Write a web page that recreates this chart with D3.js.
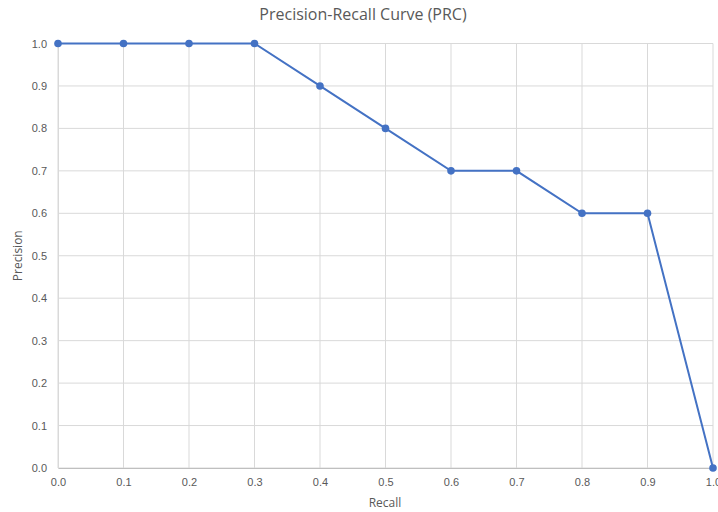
<!DOCTYPE html>
<html>
<head>
<meta charset="utf-8">
<script src="https://cdn.jsdelivr.net/npm/d3@7"></script>
<style>
  html, body { margin: 0; padding: 0; background: #fff; }
  svg { display: block; font-family: "Open Sans", "Noto Sans", sans-serif; }
</style>
</head>
<body>
<svg id="chart" width="718" height="512"></svg>
<script>
// Precision-recall points
const recall = [0.0, 0.1, 0.2, 0.3, 0.4, 0.5, 0.6, 0.7, 0.8, 0.9, 1.0];
const precision = [1.0, 1.0, 1.0, 1.0, 0.9, 0.8, 0.7, 0.7, 0.6, 0.6, 0.0];
const xTicks = [0, 0.1, 0.2, 0.3, 0.4, 0.5, 0.6, 0.7, 0.8, 0.9, 1.0];
const yTicks = [0, 0.1, 0.2, 0.3, 0.4, 0.5, 0.6, 0.7, 0.8, 0.9, 1.0];

const svg = d3.select("#chart");
const margin = { left: 58, right: 5, top: 43.5, bottom: 44 };
const W = 718, H = 512;

const x = d3.scaleLinear().domain([0, 1]).range([margin.left, W - margin.right]);
const y = d3.scaleLinear().domain([0, 1]).range([H - margin.bottom, margin.top]);

// Gridlines
svg.append("g").selectAll("line").data(xTicks).join("line")
  .attr("x1", d => x(d)).attr("x2", d => x(d))
  .attr("y1", y(0)).attr("y2", y(1))
  .attr("stroke", "#d9d9d9").attr("stroke-width", 1);
svg.append("g").selectAll("line").data(yTicks).join("line")
  .attr("x1", x(0)).attr("x2", x(1))
  .attr("y1", d => y(d)).attr("y2", d => y(d))
  .attr("stroke", "#d9d9d9").attr("stroke-width", 1);

// Axes
const xAxis = d3.axisBottom(x).tickValues(xTicks).tickFormat(d3.format(".1f")).tickSize(0).tickPadding(10);
const yAxis = d3.axisLeft(y).tickValues(yTicks).tickFormat(d3.format(".1f")).tickSize(0).tickPadding(11);

const gx = svg.append("g").attr("transform", `translate(0,${y(0)})`).call(xAxis);
gx.select(".domain").attr("stroke", "#bfbfbf");
gx.selectAll("text").attr("fill", "#595959").style("font-size", "11px");

const gy = svg.append("g").attr("transform", `translate(${x(0)},0)`).call(yAxis);
gy.select(".domain").attr("stroke", "#d9d9d9");
gy.selectAll("text").attr("fill", "#595959").style("font-size", "11px");

// Line and markers
const pts = recall.map((r, i) => [r, precision[i]]);
svg.append("path")
  .datum(pts)
  .attr("fill", "none")
  .attr("stroke", "#4472c4")
  .attr("stroke-width", 2)
  .attr("d", d3.line().x(d => x(d[0])).y(d => y(d[1])));

svg.append("g").selectAll("circle").data(pts).join("circle")
  .attr("cx", d => x(d[0])).attr("cy", d => y(d[1]))
  .attr("r", 3.8).attr("fill", "#4472c4");

// Titles
svg.append("text")
  .attr("x", 363).attr("y", 20)
  .attr("text-anchor", "middle")
  .attr("fill", "#595959")
  .style("font-size", "16px")
  .text("Precision-Recall Curve (PRC)");

svg.append("text")
  .attr("x", 385).attr("y", 507)
  .attr("text-anchor", "middle")
  .attr("fill", "#595959")
  .style("font-size", "12px")
  .text("Recall");

svg.append("text")
  .attr("transform", `translate(22,${(y(0) + y(1)) / 2}) rotate(-90)`)
  .attr("text-anchor", "middle")
  .attr("fill", "#595959")
  .style("font-size", "12px")
  .text("Precision");
</script>
</body>
</html>
